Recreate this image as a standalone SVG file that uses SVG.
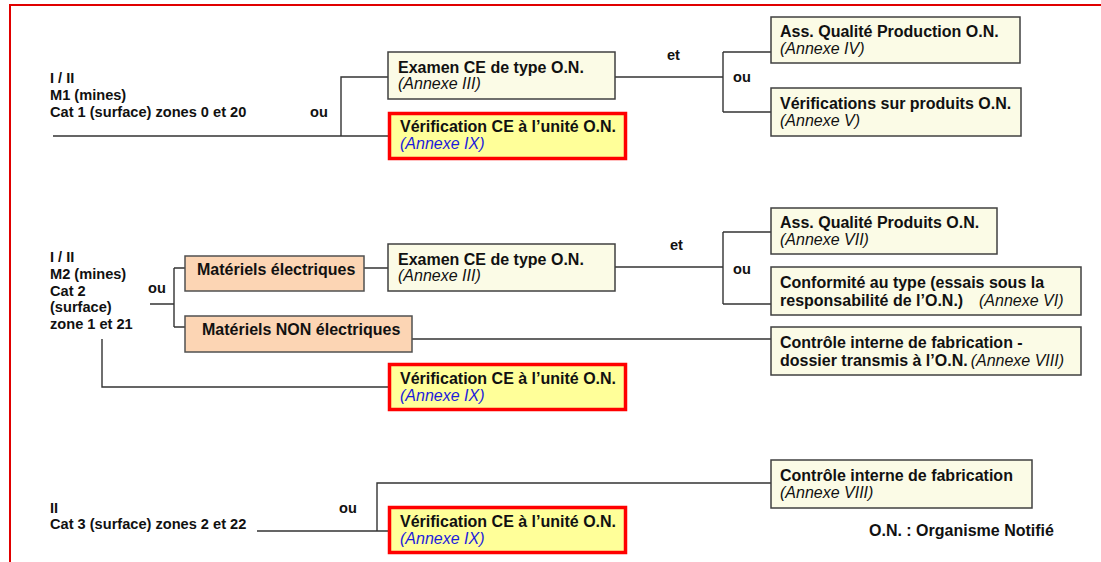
<svg xmlns="http://www.w3.org/2000/svg" width="1101" height="562" viewBox="0 0 1101 562">
<style>
text{font-family:"Liberation Sans",Arial,sans-serif;fill:#111}
.lbl{font-size:14.6px;font-weight:bold}
.t{font-size:16px;font-weight:bold}
.i{font-size:16px;font-style:italic;font-weight:normal}
.ib{font-size:16px;font-style:italic;font-weight:normal;fill:#1c1cdc}
.box{fill:#fbfbe6;stroke:#404040;stroke-width:1.5}
.red{fill:#ffff99;stroke:#ff0000;stroke-width:3.5}
.peach{fill:#fcd5b4;stroke:#505050;stroke-width:1.5}
.c{fill:none;stroke:#333;stroke-width:1.4}
</style>
<rect x="10" y="5" width="1100" height="600" fill="#fff" stroke="#e00000" stroke-width="2"/>

<g id="connectors">
<path class="c" d="M53 136 H388 M341 136 V77 H388 M615 77 H723 M723 52 V112 M723 52 H771 M723 112 H771"/>
<path class="c" d="M150 304 H174 M174 268 V327 M174 268 H185 M174 327 H185 M364 268 H388 M412 339 H771 M102 339 V387 H388 M615 267 H723 M723 232 V304 M723 232 H771 M723 304 H771"/>
<path class="c" d="M257 531 H388 M377 531 V483 H771"/>
</g>

<g id="labels">
<text class="lbl" x="50" y="83">I / II</text>
<text class="lbl" x="50" y="100">M1 (mines)</text>
<text class="lbl" x="50" y="117">Cat 1 (surface) zones 0 et 20</text>
<text class="lbl" x="310" y="117">ou</text>
<text class="lbl" x="667" y="60">et</text>
<text class="lbl" x="733" y="82">ou</text>
<text class="lbl" x="50" y="262">I / II</text>
<text class="lbl" x="50" y="279">M2 (mines)</text>
<text class="lbl" x="50" y="296">Cat 2</text>
<text class="lbl" x="50" y="312">(surface)</text>
<text class="lbl" x="50" y="329">zone 1 et 21</text>
<text class="lbl" x="148" y="293">ou</text>
<text class="lbl" x="670" y="250">et</text>
<text class="lbl" x="733" y="274">ou</text>
<text class="lbl" x="50" y="513">II</text>
<text class="lbl" x="50" y="529">Cat 3 (surface) zones 2 et 22</text>
<text class="lbl" x="339" y="513">ou</text>
<text class="t" x="869" y="536">O.N. : Organisme Notifié</text>
</g>

<g id="n1-examen">
<rect class="box" x="388" y="52" width="227" height="47"/>
<text class="t" x="398" y="73">Examen CE de type O.N.</text>
<text class="i" x="398" y="89">(Annexe III)</text>
</g>
<g id="n1-verif">
<rect class="red" x="389.5" y="113.5" width="236" height="45"/>
<text class="t" x="400" y="132">Vérification CE à l’unité O.N.</text>
<text class="ib" x="400" y="149">(Annexe IX)</text>
</g>
<g id="n1-assq">
<rect class="box" x="771" y="17" width="249" height="46"/>
<text class="t" x="780" y="37">Ass. Qualité Production O.N.</text>
<text class="i" x="780" y="54">(Annexe IV)</text>
</g>
<g id="n1-verifprod">
<rect class="box" x="771" y="88" width="250" height="48"/>
<text class="t" x="780" y="109">Vérifications sur produits O.N.</text>
<text class="i" x="780" y="126">(Annexe V)</text>
</g>

<g id="n2-mat-el">
<rect class="peach" x="185" y="256" width="179" height="35"/>
<text class="t" x="197" y="275">Matériels électriques</text>
</g>
<g id="n2-mat-nonel">
<rect class="peach" x="185" y="316" width="227" height="36"/>
<text class="t" x="202" y="335">Matériels NON électriques</text>
</g>
<g id="n2-examen">
<rect class="box" x="388" y="244" width="227" height="47"/>
<text class="t" x="398" y="265">Examen CE de type O.N.</text>
<text class="i" x="398" y="281">(Annexe III)</text>
</g>
<g id="n2-verif">
<rect class="red" x="389.5" y="364.5" width="236" height="45"/>
<text class="t" x="400" y="384">Vérification CE à l’unité O.N.</text>
<text class="ib" x="400" y="401">(Annexe IX)</text>
</g>
<g id="n2-assqp">
<rect class="box" x="771" y="208" width="226" height="46"/>
<text class="t" x="780" y="228">Ass. Qualité Produits O.N.</text>
<text class="i" x="780" y="245">(Annexe VII)</text>
</g>
<g id="n2-conf">
<rect class="box" x="771" y="267" width="310" height="48"/>
<text class="t" x="780" y="288">Conformité au type (essais sous la</text>
<text class="t" x="780" y="306">responsabilité de l’O.N.)<tspan class="i" x="979">(Annexe VI)</tspan></text>
</g>
<g id="n2-ctrl">
<rect class="box" x="771" y="327" width="310" height="48"/>
<text class="t" x="780" y="348">Contrôle interne de fabrication -</text>
<text class="t" x="780" y="366">dossier transmis à l’O.N.<tspan class="i" dx="3">(Annexe VIII)</tspan></text>
</g>

<g id="n3-ctrl">
<rect class="box" x="771" y="460" width="261" height="48"/>
<text class="t" x="780" y="481">Contrôle interne de fabrication</text>
<text class="i" x="780" y="498">(Annexe VIII)</text>
</g>
<g id="n3-verif">
<rect class="red" x="389.5" y="507.5" width="236" height="45"/>
<text class="t" x="400" y="527">Vérification CE à l’unité O.N.</text>
<text class="ib" x="400" y="544">(Annexe IX)</text>
</g>
</svg>
